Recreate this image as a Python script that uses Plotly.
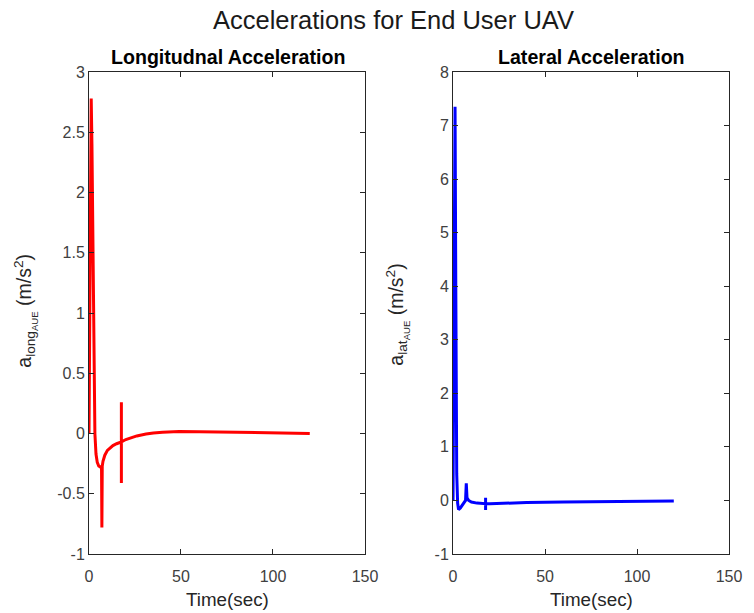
import plotly.graph_objects as go
from plotly.subplots import make_subplots

# Longitudinal acceleration (red)
time_long = [0, 0.4, 0.8, 1.2, 1.6, 2.2, 2.8, 3.2, 3.8, 4.5, 5.3, 6.3, 6.8, 7.0, 7.2, 7.6,
             8.6, 10, 13, 15, 17.6, 17.6, 17.6, 17.6, 20, 22, 26, 31, 35, 40, 49, 60,
             70, 80, 90, 100, 110, 120]
a_long = [0, 1.0, 2.0, 2.78, 2.4, 1.3, 0.45, 0.0, -0.17, -0.24, -0.27, -0.28, -0.27, -0.78,
          -0.27, -0.23, -0.18, -0.14, -0.1, -0.085, -0.07, 0.26, -0.41, -0.07, -0.05, -0.04,
          -0.02, -0.005, 0.005, 0.01, 0.016, 0.015, 0.012, 0.009, 0.006, 0.004, 0.002, 0.0]

# Lateral acceleration (blue)
time_lat = [0, 0.5, 1.1, 1.5, 2.0, 2.5, 3.0, 4.0, 5.0, 6.0, 6.8, 7.2, 7.6, 8.5, 10, 13,
            17.7, 17.7, 17.7, 17.7, 20, 27, 40, 60, 80, 100, 120]
a_lat = [0, 3.5, 7.35, 4.0, 0.5, -0.05, -0.17, -0.14, -0.08, -0.03, 0.0, 0.32, 0.05, 0.0,
         -0.03, -0.05, -0.06, 0.05, -0.18, -0.06, -0.06, -0.05, -0.04, -0.03, -0.02, -0.015, -0.01]

x_ticks = [0, 50, 100, 150]
y_ticks_long = [-1, -0.5, 0, 0.5, 1, 1.5, 2, 2.5, 3]
y_ticks_lat = [-1, 0, 1, 2, 3, 4, 5, 6, 7, 8]

FONT = "Liberation Sans, Arial, Helvetica, sans-serif"
AX = "#262626"
TICKTXT = "#404040"

fig = make_subplots(rows=1, cols=2, horizontal_spacing=0.1376)
fig.update_xaxes(domain=[0, 0.4312], row=1, col=1)
fig.update_xaxes(domain=[0.5688, 1], row=1, col=2)

fig.add_trace(go.Scatter(x=time_long, y=a_long, mode="lines",
                         line=dict(color="#ff0000", width=3), showlegend=False), 1, 1)
fig.add_trace(go.Scatter(x=time_lat, y=a_lat, mode="lines",
                         line=dict(color="#0000ff", width=3), showlegend=False), 1, 2)

axis_common = dict(showline=True, linecolor=AX, linewidth=1, mirror="allticks",
                   ticks="inside", ticklen=5, tickcolor=AX, tickwidth=1,
                   showgrid=False, zeroline=False,
                   tickfont=dict(family=FONT, size=16, color=TICKTXT))
fig.update_xaxes(range=[0, 150], tickvals=x_ticks, ticktext=[str(v) for v in x_ticks],
                 ticklabelstandoff=8, **axis_common)
fig.update_yaxes(range=[-1, 3], tickvals=y_ticks_long,
                 ticktext=[f"{v:g}" for v in y_ticks_long], row=1, col=1, **axis_common)
fig.update_yaxes(range=[-1, 8], tickvals=y_ticks_lat,
                 ticktext=[f"{v:g}" for v in y_ticks_lat], row=1, col=2, **axis_common)

W, H = 754, 613
L, R, T, B = 89, 18, 72, 59
pw, ph = W - L - R, H - T - B

fig.update_layout(
    width=W, height=H,
    margin=dict(l=L, r=R, t=T, b=B),
    plot_bgcolor="white", paper_bgcolor="white",
    font=dict(family=FONT, color=AX),
)


def px_x(p):
    return (p - L) / pw


def px_y(p):
    return (H - B - p) / ph


annotations = [
    dict(text="Accelerations for End User UAV", x=px_x(397), y=px_y(20), xref="paper", yref="paper",
         showarrow=False, xanchor="center", yanchor="middle",
         font=dict(family=FONT, size=25.5, color="#1a1a1a")),
    dict(text="<b>Longitudnal Acceleration</b>", x=px_x(230), y=px_y(57), xref="paper", yref="paper",
         showarrow=False, xanchor="center", yanchor="middle",
         font=dict(family=FONT, size=19.6, color="#000000")),
    dict(text="<b>Lateral Acceleration</b>", x=px_x(597), y=px_y(57), xref="paper", yref="paper",
         showarrow=False, xanchor="center", yanchor="middle",
         font=dict(family=FONT, size=19.6, color="#000000")),
    dict(text="Time(sec)", x=px_x(229), y=px_y(599), xref="paper", yref="paper",
         showarrow=False, xanchor="center", yanchor="middle",
         font=dict(family=FONT, size=18.8, color=AX)),
    dict(text="Time(sec)", x=px_x(597), y=px_y(599), xref="paper", yref="paper",
         showarrow=False, xanchor="center", yanchor="middle",
         font=dict(family=FONT, size=18.8, color=AX)),
    dict(text="a<sub>long<sub>AUE</sub></sub> (m/s<sup>2</sup>)", x=px_x(24), y=px_y(311),
         xref="paper", yref="paper", showarrow=False, textangle=-90,
         xanchor="center", yanchor="middle",
         font=dict(family=FONT, size=19.5, color=AX)),
    dict(text="a<sub>lat<sub>AUE</sub></sub> (m/s<sup>2</sup>)", x=px_x(400), y=px_y(315),
         xref="paper", yref="paper", showarrow=False, textangle=-90,
         xanchor="center", yanchor="middle",
         font=dict(family=FONT, size=19.5, color=AX)),
]
fig.update_layout(annotations=annotations)

fig.write_html("out.html")
